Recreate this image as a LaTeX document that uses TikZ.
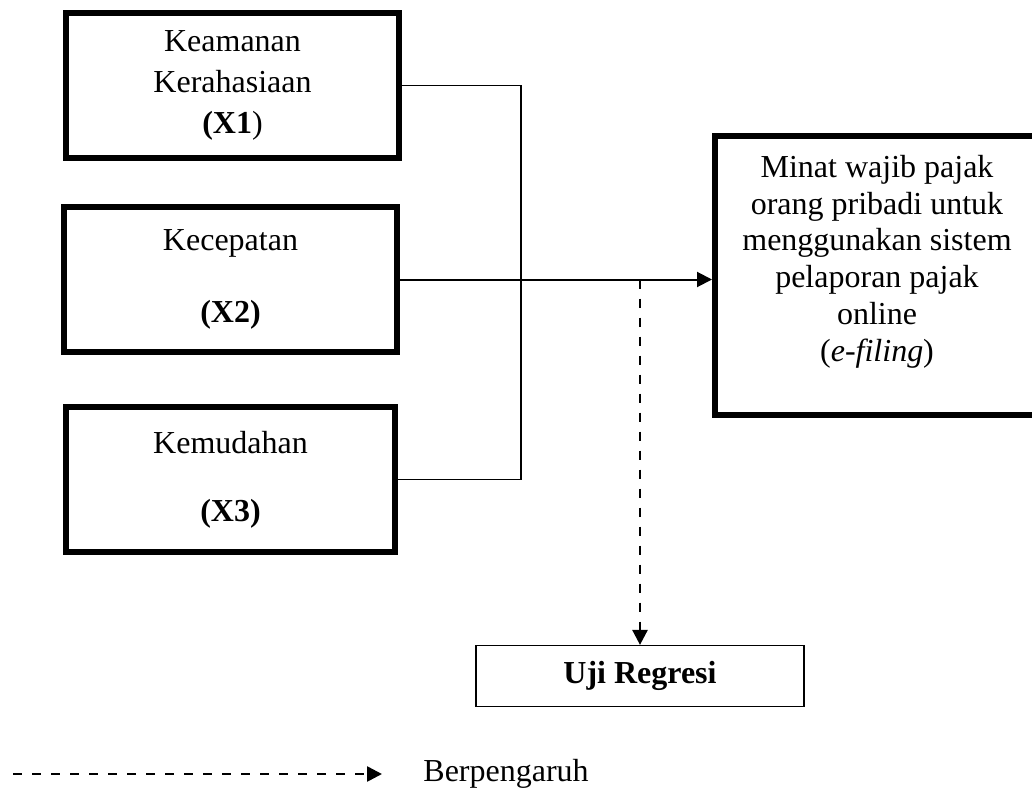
\documentclass[tikz,border=0pt]{standalone}
\usepackage{fontspec}
\setmainfont{Liberation Serif}
\usetikzlibrary{arrows.meta, positioning}

\begin{document}
\begin{tikzpicture}[
    varbox/.style={draw, line width=3pt, rectangle, align=center, minimum width=166.5pt, minimum height=72.5pt, inner sep=0pt},
    targetbox/.style={draw, line width=3pt, rectangle, align=center, minimum width=162pt, minimum height=139.5pt, inner sep=0pt},
    testbox/.style={draw, line width=0.6pt, rectangle, align=center, minimum width=164pt, minimum height=30.5pt, inner sep=0pt},
    arrow/.style={-{Triangle[length=7.5pt, width=7.5pt]}, line width=1pt},
    link/.style={line width=0.6pt},
    dasharrow/.style={-{Triangle[length=7.5pt, width=7.5pt]}, line width=1.3pt, dash pattern=on 4.5pt off 5pt},
    font=\fontsize{16pt}{18.4pt}\selectfont
]
\useasboundingbox (0,0) rectangle (516pt,-395.5pt);

% Nodes
\node[varbox] (x1) at (116.25pt,-42.75pt) {Keamanan\\[2.1pt]Kerahasiaan\\[2.1pt]\textbf{(X1})};
\node[varbox, below=21.5pt of x1, xshift=-1pt] (x2) {Kecepatan\\[17.6pt]\textbf{(X2)}};
\node[varbox, below=24.5pt of x2, minimum width=164.5pt] (x3) {Kemudahan\\[15.6pt]\textbf{(X3)}};
\node[targetbox, right=156pt of x2, yshift=2pt] (target) {Minat wajib pajak\\orang pribadi untuk\\menggunakan sistem\\pelaporan pajak\\online\\(\textit{e-filing})\\[-1pt]\mbox{}};
\node[testbox] (uji) at (320pt,-338pt) {\textbf{Uji Regresi}};
\coordinate (split) at (uji.north |- x2.east);

% Legend
\coordinate (legstart) at (6.5pt,-387pt);
\node[inner sep=0pt, anchor=west] (legend) at (211.5pt,-387pt) {Berpengaruh};

% Arrows
\draw[link] (x1.east) -- ++(59.5pt,0) |- (x3.east);
\draw[arrow] (x2.east) -- (x2.east -| target.west);
\draw[dasharrow] (split) -- (uji.north);
\draw[dasharrow] (legstart) -- ([xshift=-20.5pt]legend.west);

\end{tikzpicture}
\end{document}
